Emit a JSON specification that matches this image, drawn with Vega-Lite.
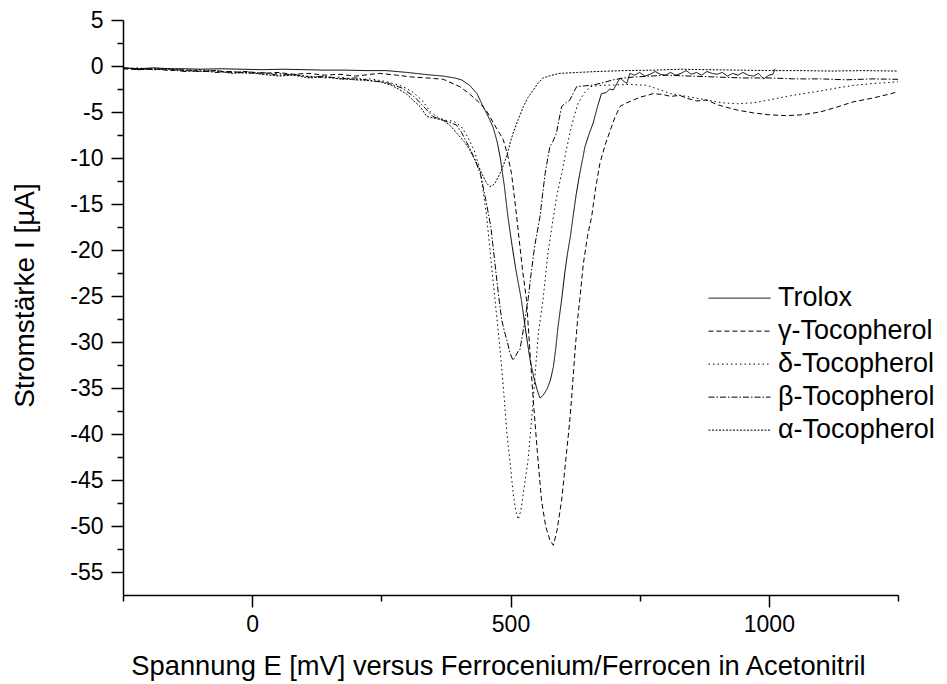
{
  "$schema": "https://vega.github.io/schema/vega-lite/v6.json",
  "width": 775,
  "height": 575,
  "autosize": {"type": "none"},
  "padding": {"left": 123, "top": 20, "right": 49, "bottom": 89},
  "background": "white",
  "config": {
    "view": {"stroke": null},
    "font": "Liberation Sans"
  },
  "data": {"values": [
{"s":"Trolox","E":-250,"I":-0.2},{"s":"Trolox","E":-220,"I":-0.3},{"s":"Trolox","E":-190,"I":-0.2},{"s":"Trolox","E":-160,"I":-0.3},{"s":"Trolox","E":-130,"I":-0.3},{"s":"Trolox","E":-100,"I":-0.35},{"s":"Trolox","E":-60,"I":-0.3},{"s":"Trolox","E":-20,"I":-0.35},{"s":"Trolox","E":20,"I":-0.4},{"s":"Trolox","E":60,"I":-0.35},{"s":"Trolox","E":100,"I":-0.4},{"s":"Trolox","E":140,"I":-0.45},{"s":"Trolox","E":180,"I":-0.45},{"s":"Trolox","E":220,"I":-0.5},{"s":"Trolox","E":260,"I":-0.5},{"s":"Trolox","E":300,"I":-0.7},{"s":"Trolox","E":340,"I":-0.95},{"s":"Trolox","E":370,"I":-1.1},{"s":"Trolox","E":392,"I":-1.3},{"s":"Trolox","E":405,"I":-1.5},{"s":"Trolox","E":421,"I":-2.1},{"s":"Trolox","E":435,"I":-3.0},{"s":"Trolox","E":447,"I":-4.4},{"s":"Trolox","E":457,"I":-5.5},{"s":"Trolox","E":466,"I":-6.6},{"s":"Trolox","E":474,"I":-8.2},{"s":"Trolox","E":480,"I":-9.9},{"s":"Trolox","E":488,"I":-13},{"s":"Trolox","E":495,"I":-16.4},{"s":"Trolox","E":503,"I":-19.5},{"s":"Trolox","E":510,"I":-22},{"s":"Trolox","E":521,"I":-25.4},{"s":"Trolox","E":530,"I":-29},{"s":"Trolox","E":538,"I":-32},{"s":"Trolox","E":545,"I":-33.8},{"s":"Trolox","E":550,"I":-34.9},{"s":"Trolox","E":557,"I":-36.1},{"s":"Trolox","E":563,"I":-35.8},{"s":"Trolox","E":570,"I":-35.2},{"s":"Trolox","E":577,"I":-34.2},{"s":"Trolox","E":583,"I":-32.7},{"s":"Trolox","E":588,"I":-30.5},{"s":"Trolox","E":592,"I":-28.3},{"s":"Trolox","E":599,"I":-25.4},{"s":"Trolox","E":605,"I":-22.5},{"s":"Trolox","E":610,"I":-20.5},{"s":"Trolox","E":616,"I":-18.5},{"s":"Trolox","E":621,"I":-16.4},{"s":"Trolox","E":627,"I":-14},{"s":"Trolox","E":634,"I":-11.7},{"s":"Trolox","E":640,"I":-10},{"s":"Trolox","E":644,"I":-8.8},{"s":"Trolox","E":652,"I":-7.4},{"s":"Trolox","E":660,"I":-6.2},{"s":"Trolox","E":668,"I":-4.5},{"s":"Trolox","E":676,"I":-3.0},{"s":"Trolox","E":685,"I":-2.9},{"s":"Trolox","E":692,"I":-2.5},{"s":"Trolox","E":699,"I":-2.6},{"s":"Trolox","E":706,"I":-1.9},{"s":"Trolox","E":712,"I":-1.3},{"s":"Trolox","E":718,"I":-1.6},{"s":"Trolox","E":725,"I":-1.9},{"s":"Trolox","E":731,"I":-0.8},{"s":"Trolox","E":740,"I":-1.0},{"s":"Trolox","E":750,"I":-0.7},{"s":"Trolox","E":760,"I":-1.1},{"s":"Trolox","E":770,"I":-0.9},{"s":"Trolox","E":780,"I":-0.6},{"s":"Trolox","E":790,"I":-0.9},{"s":"Trolox","E":800,"I":-1.0},{"s":"Trolox","E":810,"I":-0.7},{"s":"Trolox","E":820,"I":-1.0},{"s":"Trolox","E":830,"I":-0.8},{"s":"Trolox","E":840,"I":-0.5},{"s":"Trolox","E":850,"I":-0.9},{"s":"Trolox","E":860,"I":-0.7},{"s":"Trolox","E":870,"I":-1.0},{"s":"Trolox","E":880,"I":-0.6},{"s":"Trolox","E":890,"I":-0.8},{"s":"Trolox","E":900,"I":-0.9},{"s":"Trolox","E":910,"I":-0.7},{"s":"Trolox","E":920,"I":-1.1},{"s":"Trolox","E":930,"I":-0.8},{"s":"Trolox","E":940,"I":-1.0},{"s":"Trolox","E":950,"I":-0.7},{"s":"Trolox","E":960,"I":-1.0},{"s":"Trolox","E":970,"I":-1.1},{"s":"Trolox","E":980,"I":-0.8},{"s":"Trolox","E":990,"I":-1.4},{"s":"Trolox","E":1000,"I":-1.0},{"s":"Trolox","E":1008,"I":-0.9},{"s":"Trolox","E":1012,"I":-0.3},
{"s":"γ-Tocopherol","E":-250,"I":-0.3},{"s":"γ-Tocopherol","E":-220,"I":-0.4},{"s":"γ-Tocopherol","E":-190,"I":-0.3},{"s":"γ-Tocopherol","E":-160,"I":-0.5},{"s":"γ-Tocopherol","E":-130,"I":-0.4},{"s":"γ-Tocopherol","E":-100,"I":-0.6},{"s":"γ-Tocopherol","E":-70,"I":-0.5},{"s":"γ-Tocopherol","E":-40,"I":-0.7},{"s":"γ-Tocopherol","E":-10,"I":-0.6},{"s":"γ-Tocopherol","E":20,"I":-0.8},{"s":"γ-Tocopherol","E":50,"I":-0.7},{"s":"γ-Tocopherol","E":80,"I":-0.9},{"s":"γ-Tocopherol","E":110,"I":-0.8},{"s":"γ-Tocopherol","E":140,"I":-1.0},{"s":"γ-Tocopherol","E":170,"I":-0.9},{"s":"γ-Tocopherol","E":200,"I":-1.1},{"s":"γ-Tocopherol","E":230,"I":-0.9},{"s":"γ-Tocopherol","E":247,"I":-0.8},{"s":"γ-Tocopherol","E":280,"I":-1.0},{"s":"γ-Tocopherol","E":310,"I":-1.2},{"s":"γ-Tocopherol","E":340,"I":-1.3},{"s":"γ-Tocopherol","E":370,"I":-1.45},{"s":"γ-Tocopherol","E":402,"I":-2.25},{"s":"γ-Tocopherol","E":420,"I":-3.0},{"s":"γ-Tocopherol","E":441,"I":-4.05},{"s":"γ-Tocopherol","E":455,"I":-5.0},{"s":"γ-Tocopherol","E":467,"I":-6.2},{"s":"γ-Tocopherol","E":486,"I":-8.0},{"s":"γ-Tocopherol","E":495,"I":-9.8},{"s":"γ-Tocopherol","E":502,"I":-11.7},{"s":"γ-Tocopherol","E":507,"I":-14},{"s":"γ-Tocopherol","E":512,"I":-16.4},{"s":"γ-Tocopherol","E":518,"I":-19.5},{"s":"γ-Tocopherol","E":524,"I":-22.5},{"s":"γ-Tocopherol","E":531,"I":-25.4},{"s":"γ-Tocopherol","E":537,"I":-30.5},{"s":"γ-Tocopherol","E":544,"I":-36.3},{"s":"γ-Tocopherol","E":552,"I":-42},{"s":"γ-Tocopherol","E":560,"I":-47.2},{"s":"γ-Tocopherol","E":568,"I":-50.0},{"s":"γ-Tocopherol","E":576,"I":-51.5},{"s":"γ-Tocopherol","E":583,"I":-52.1},{"s":"γ-Tocopherol","E":590,"I":-50.5},{"s":"γ-Tocopherol","E":599,"I":-47.2},{"s":"γ-Tocopherol","E":604,"I":-44.5},{"s":"γ-Tocopherol","E":609,"I":-41.7},{"s":"γ-Tocopherol","E":614,"I":-39},{"s":"γ-Tocopherol","E":618,"I":-36.3},{"s":"γ-Tocopherol","E":625,"I":-30.9},{"s":"γ-Tocopherol","E":630,"I":-27.5},{"s":"γ-Tocopherol","E":634,"I":-25.4},{"s":"γ-Tocopherol","E":641,"I":-21.5},{"s":"γ-Tocopherol","E":649,"I":-18.5},{"s":"γ-Tocopherol","E":657,"I":-16.4},{"s":"γ-Tocopherol","E":665,"I":-13.2},{"s":"γ-Tocopherol","E":673,"I":-10.6},{"s":"γ-Tocopherol","E":683,"I":-8.6},{"s":"γ-Tocopherol","E":693,"I":-7.0},{"s":"γ-Tocopherol","E":702,"I":-5.6},{"s":"γ-Tocopherol","E":712,"I":-4.4},{"s":"γ-Tocopherol","E":725,"I":-4.0},{"s":"γ-Tocopherol","E":738,"I":-3.7},{"s":"γ-Tocopherol","E":750,"I":-3.4},{"s":"γ-Tocopherol","E":764,"I":-3.2},{"s":"γ-Tocopherol","E":776,"I":-3.0},{"s":"γ-Tocopherol","E":795,"I":-3.1},{"s":"γ-Tocopherol","E":810,"I":-3.3},{"s":"γ-Tocopherol","E":828,"I":-3.2},{"s":"γ-Tocopherol","E":841,"I":-3.5},{"s":"γ-Tocopherol","E":860,"I":-3.8},{"s":"γ-Tocopherol","E":880,"I":-3.7},{"s":"γ-Tocopherol","E":900,"I":-4.2},{"s":"γ-Tocopherol","E":912,"I":-4.4},{"s":"γ-Tocopherol","E":940,"I":-4.8},{"s":"γ-Tocopherol","E":970,"I":-5.1},{"s":"γ-Tocopherol","E":1000,"I":-5.3},{"s":"γ-Tocopherol","E":1034,"I":-5.4},{"s":"γ-Tocopherol","E":1065,"I":-5.3},{"s":"γ-Tocopherol","E":1099,"I":-5.0},{"s":"γ-Tocopherol","E":1130,"I":-4.5},{"s":"γ-Tocopherol","E":1163,"I":-3.9},{"s":"γ-Tocopherol","E":1200,"I":-3.5},{"s":"γ-Tocopherol","E":1230,"I":-3.1},{"s":"γ-Tocopherol","E":1250,"I":-2.8},
{"s":"δ-Tocopherol","E":-250,"I":-0.3},{"s":"δ-Tocopherol","E":-220,"I":-0.2},{"s":"δ-Tocopherol","E":-190,"I":-0.4},{"s":"δ-Tocopherol","E":-160,"I":-0.3},{"s":"δ-Tocopherol","E":-130,"I":-0.5},{"s":"δ-Tocopherol","E":-100,"I":-0.4},{"s":"δ-Tocopherol","E":-70,"I":-0.6},{"s":"δ-Tocopherol","E":-40,"I":-0.7},{"s":"δ-Tocopherol","E":-10,"I":-0.6},{"s":"δ-Tocopherol","E":20,"I":-0.9},{"s":"δ-Tocopherol","E":50,"I":-0.8},{"s":"δ-Tocopherol","E":80,"I":-1.0},{"s":"δ-Tocopherol","E":110,"I":-1.1},{"s":"δ-Tocopherol","E":140,"I":-1.3},{"s":"δ-Tocopherol","E":170,"I":-1.2},{"s":"δ-Tocopherol","E":200,"I":-1.5},{"s":"δ-Tocopherol","E":230,"I":-1.4},{"s":"δ-Tocopherol","E":260,"I":-1.7},{"s":"δ-Tocopherol","E":290,"I":-2.2},{"s":"δ-Tocopherol","E":310,"I":-2.8},{"s":"δ-Tocopherol","E":330,"I":-3.8},{"s":"δ-Tocopherol","E":345,"I":-5.0},{"s":"δ-Tocopherol","E":360,"I":-5.6},{"s":"δ-Tocopherol","E":375,"I":-5.9},{"s":"δ-Tocopherol","E":390,"I":-6.0},{"s":"δ-Tocopherol","E":405,"I":-6.6},{"s":"δ-Tocopherol","E":418,"I":-7.8},{"s":"δ-Tocopherol","E":430,"I":-9.2},{"s":"δ-Tocopherol","E":442,"I":-11.5},{"s":"δ-Tocopherol","E":454,"I":-16.4},{"s":"δ-Tocopherol","E":462,"I":-21},{"s":"δ-Tocopherol","E":470,"I":-25.4},{"s":"δ-Tocopherol","E":480,"I":-30.9},{"s":"δ-Tocopherol","E":487,"I":-35.5},{"s":"δ-Tocopherol","E":493,"I":-39.9},{"s":"δ-Tocopherol","E":500,"I":-43.5},{"s":"δ-Tocopherol","E":505,"I":-46.4},{"s":"δ-Tocopherol","E":510,"I":-48.3},{"s":"δ-Tocopherol","E":515,"I":-49.3},{"s":"δ-Tocopherol","E":520,"I":-48.3},{"s":"δ-Tocopherol","E":525,"I":-46.4},{"s":"δ-Tocopherol","E":534,"I":-42.8},{"s":"δ-Tocopherol","E":540,"I":-39},{"s":"δ-Tocopherol","E":544,"I":-36.3},{"s":"δ-Tocopherol","E":549,"I":-32.5},{"s":"δ-Tocopherol","E":554,"I":-29},{"s":"δ-Tocopherol","E":563,"I":-25.4},{"s":"δ-Tocopherol","E":572,"I":-20.5},{"s":"δ-Tocopherol","E":583,"I":-16.4},{"s":"δ-Tocopherol","E":590,"I":-14},{"s":"δ-Tocopherol","E":599,"I":-11.7},{"s":"δ-Tocopherol","E":607,"I":-9.4},{"s":"δ-Tocopherol","E":615,"I":-7.3},{"s":"δ-Tocopherol","E":623,"I":-5.5},{"s":"δ-Tocopherol","E":631,"I":-4.05},{"s":"δ-Tocopherol","E":642,"I":-3.0},{"s":"δ-Tocopherol","E":654,"I":-2.25},{"s":"δ-Tocopherol","E":675,"I":-2.1},{"s":"δ-Tocopherol","E":699,"I":-2.07},{"s":"δ-Tocopherol","E":730,"I":-2.0},{"s":"δ-Tocopherol","E":764,"I":-2.1},{"s":"δ-Tocopherol","E":790,"I":-2.6},{"s":"δ-Tocopherol","E":810,"I":-3.0},{"s":"δ-Tocopherol","E":840,"I":-3.3},{"s":"δ-Tocopherol","E":870,"I":-3.6},{"s":"δ-Tocopherol","E":910,"I":-4.0},{"s":"δ-Tocopherol","E":940,"I":-4.1},{"s":"δ-Tocopherol","E":970,"I":-4.0},{"s":"δ-Tocopherol","E":1000,"I":-3.7},{"s":"δ-Tocopherol","E":1035,"I":-3.3},{"s":"δ-Tocopherol","E":1067,"I":-3.0},{"s":"δ-Tocopherol","E":1100,"I":-2.7},{"s":"δ-Tocopherol","E":1131,"I":-2.4},{"s":"δ-Tocopherol","E":1165,"I":-2.1},{"s":"δ-Tocopherol","E":1202,"I":-1.9},{"s":"δ-Tocopherol","E":1230,"I":-1.8},{"s":"δ-Tocopherol","E":1250,"I":-1.7},
{"s":"β-Tocopherol","E":-250,"I":-0.2},{"s":"β-Tocopherol","E":-220,"I":-0.4},{"s":"β-Tocopherol","E":-190,"I":-0.3},{"s":"β-Tocopherol","E":-160,"I":-0.4},{"s":"β-Tocopherol","E":-130,"I":-0.6},{"s":"β-Tocopherol","E":-100,"I":-0.5},{"s":"β-Tocopherol","E":-70,"I":-0.7},{"s":"β-Tocopherol","E":-40,"I":-0.6},{"s":"β-Tocopherol","E":-10,"I":-0.8},{"s":"β-Tocopherol","E":20,"I":-0.7},{"s":"β-Tocopherol","E":50,"I":-1.0},{"s":"β-Tocopherol","E":80,"I":-0.9},{"s":"β-Tocopherol","E":110,"I":-1.2},{"s":"β-Tocopherol","E":140,"I":-1.1},{"s":"β-Tocopherol","E":170,"I":-1.4},{"s":"β-Tocopherol","E":200,"I":-1.3},{"s":"β-Tocopherol","E":230,"I":-1.6},{"s":"β-Tocopherol","E":260,"I":-1.8},{"s":"β-Tocopherol","E":290,"I":-2.4},{"s":"β-Tocopherol","E":315,"I":-3.4},{"s":"β-Tocopherol","E":335,"I":-4.6},{"s":"β-Tocopherol","E":350,"I":-5.5},{"s":"β-Tocopherol","E":365,"I":-5.8},{"s":"β-Tocopherol","E":380,"I":-6.1},{"s":"β-Tocopherol","E":395,"I":-6.4},{"s":"β-Tocopherol","E":405,"I":-7.2},{"s":"β-Tocopherol","E":418,"I":-8.6},{"s":"β-Tocopherol","E":430,"I":-10},{"s":"β-Tocopherol","E":442,"I":-11.8},{"s":"β-Tocopherol","E":452,"I":-14.5},{"s":"β-Tocopherol","E":462,"I":-17.5},{"s":"β-Tocopherol","E":470,"I":-21.5},{"s":"β-Tocopherol","E":477,"I":-25},{"s":"β-Tocopherol","E":483,"I":-27.6},{"s":"β-Tocopherol","E":488,"I":-28.8},{"s":"β-Tocopherol","E":493,"I":-29.8},{"s":"β-Tocopherol","E":499,"I":-31.2},{"s":"β-Tocopherol","E":505,"I":-32},{"s":"β-Tocopherol","E":510,"I":-31.5},{"s":"β-Tocopherol","E":515,"I":-31},{"s":"β-Tocopherol","E":518,"I":-30.9},{"s":"β-Tocopherol","E":523,"I":-29.3},{"s":"β-Tocopherol","E":528,"I":-27.6},{"s":"β-Tocopherol","E":534,"I":-25.4},{"s":"β-Tocopherol","E":540,"I":-22.5},{"s":"β-Tocopherol","E":547,"I":-19.5},{"s":"β-Tocopherol","E":557,"I":-16.4},{"s":"β-Tocopherol","E":562,"I":-14},{"s":"β-Tocopherol","E":567,"I":-11.7},{"s":"β-Tocopherol","E":576,"I":-8.8},{"s":"β-Tocopherol","E":582,"I":-8.2},{"s":"β-Tocopherol","E":589,"I":-7.3},{"s":"β-Tocopherol","E":594,"I":-5.8},{"s":"β-Tocopherol","E":599,"I":-4.4},{"s":"β-Tocopherol","E":607,"I":-4.0},{"s":"β-Tocopherol","E":615,"I":-3.7},{"s":"β-Tocopherol","E":621,"I":-3.0},{"s":"β-Tocopherol","E":628,"I":-2.25},{"s":"β-Tocopherol","E":645,"I":-2.15},{"s":"β-Tocopherol","E":660,"I":-2.07},{"s":"β-Tocopherol","E":680,"I":-1.8},{"s":"β-Tocopherol","E":699,"I":-1.5},{"s":"β-Tocopherol","E":720,"I":-1.3},{"s":"β-Tocopherol","E":738,"I":-1.2},{"s":"β-Tocopherol","E":770,"I":-1.1},{"s":"β-Tocopherol","E":800,"I":-1.0},{"s":"β-Tocopherol","E":850,"I":-1.1},{"s":"β-Tocopherol","E":900,"I":-1.2},{"s":"β-Tocopherol","E":950,"I":-1.3},{"s":"β-Tocopherol","E":1000,"I":-1.3},{"s":"β-Tocopherol","E":1050,"I":-1.4},{"s":"β-Tocopherol","E":1100,"I":-1.4},{"s":"β-Tocopherol","E":1150,"I":-1.5},{"s":"β-Tocopherol","E":1200,"I":-1.4},{"s":"β-Tocopherol","E":1250,"I":-1.45},
{"s":"α-Tocopherol","E":-250,"I":-0.2},{"s":"α-Tocopherol","E":-220,"I":-0.3},{"s":"α-Tocopherol","E":-190,"I":-0.4},{"s":"α-Tocopherol","E":-160,"I":-0.3},{"s":"α-Tocopherol","E":-130,"I":-0.5},{"s":"α-Tocopherol","E":-100,"I":-0.6},{"s":"α-Tocopherol","E":-70,"I":-0.5},{"s":"α-Tocopherol","E":-40,"I":-0.8},{"s":"α-Tocopherol","E":-10,"I":-0.7},{"s":"α-Tocopherol","E":20,"I":-0.9},{"s":"α-Tocopherol","E":50,"I":-1.1},{"s":"α-Tocopherol","E":80,"I":-1.0},{"s":"α-Tocopherol","E":110,"I":-1.3},{"s":"α-Tocopherol","E":140,"I":-1.2},{"s":"α-Tocopherol","E":170,"I":-1.4},{"s":"α-Tocopherol","E":200,"I":-1.5},{"s":"α-Tocopherol","E":230,"I":-1.6},{"s":"α-Tocopherol","E":247,"I":-1.7},{"s":"α-Tocopherol","E":270,"I":-2.1},{"s":"α-Tocopherol","E":286,"I":-2.6},{"s":"α-Tocopherol","E":300,"I":-3.1},{"s":"α-Tocopherol","E":311,"I":-3.7},{"s":"α-Tocopherol","E":325,"I":-4.4},{"s":"α-Tocopherol","E":338,"I":-5.5},{"s":"α-Tocopherol","E":355,"I":-5.7},{"s":"α-Tocopherol","E":370,"I":-5.9},{"s":"α-Tocopherol","E":384,"I":-6.5},{"s":"α-Tocopherol","E":396,"I":-7.3},{"s":"α-Tocopherol","E":410,"I":-8.2},{"s":"α-Tocopherol","E":421,"I":-9.1},{"s":"α-Tocopherol","E":431,"I":-10.2},{"s":"α-Tocopherol","E":441,"I":-11.3},{"s":"α-Tocopherol","E":448,"I":-12.1},{"s":"α-Tocopherol","E":454,"I":-12.75},{"s":"α-Tocopherol","E":460,"I":-13.1},{"s":"α-Tocopherol","E":465,"I":-13.0},{"s":"α-Tocopherol","E":470,"I":-12.75},{"s":"α-Tocopherol","E":476,"I":-12.1},{"s":"α-Tocopherol","E":483,"I":-11.3},{"s":"α-Tocopherol","E":490,"I":-10.2},{"s":"α-Tocopherol","E":496,"I":-9.1},{"s":"α-Tocopherol","E":500,"I":-8.2},{"s":"α-Tocopherol","E":505,"I":-7.3},{"s":"α-Tocopherol","E":515,"I":-5.8},{"s":"α-Tocopherol","E":525,"I":-4.4},{"s":"α-Tocopherol","E":534,"I":-3.4},{"s":"α-Tocopherol","E":544,"I":-2.6},{"s":"α-Tocopherol","E":553,"I":-1.9},{"s":"α-Tocopherol","E":563,"I":-1.3},{"s":"α-Tocopherol","E":580,"I":-1.0},{"s":"α-Tocopherol","E":596,"I":-0.8},{"s":"α-Tocopherol","E":630,"I":-0.7},{"s":"α-Tocopherol","E":667,"I":-0.6},{"s":"α-Tocopherol","E":720,"I":-0.5},{"s":"α-Tocopherol","E":780,"I":-0.45},{"s":"α-Tocopherol","E":828,"I":-0.35},{"s":"α-Tocopherol","E":880,"I":-0.4},{"s":"α-Tocopherol","E":940,"I":-0.45},{"s":"α-Tocopherol","E":1000,"I":-0.5},{"s":"α-Tocopherol","E":1060,"I":-0.5},{"s":"α-Tocopherol","E":1120,"I":-0.55},{"s":"α-Tocopherol","E":1180,"I":-0.5},{"s":"α-Tocopherol","E":1250,"I":-0.55}
  ]},
  "mark": {"type": "line", "color": "black", "strokeWidth": 1, "clip": true},
  "encoding": {
    "x": {
      "field": "E", "type": "quantitative",
      "scale": {"domain": [-250, 1250], "nice": false, "zero": false},
      "axis": {
        "title": "Spannung E [mV] versus Ferrocenium/Ferrocen in Acetonitril",
        "values": [-250, 0, 250, 500, 750, 1000, 1250],
        "grid": false,
        "domainColor": "black", "domainWidth": 1.5,
        "tickColor": "black", "tickWidth": 1.5,
        "tickSize": {"condition": {"test": "datum.value % 500 === 0", "value": 12}, "value": 6},
        "labelExpr": "datum.value % 500 === 0 ? '' + datum.value : ''",
        "labelFont": "Liberation Sans", "labelFontSize": 23, "labelColor": "black", "labelPadding": 6,
        "titleFont": "Liberation Sans", "titleFontSize": 27.3, "titleFontWeight": "normal", "titleColor": "black", "titlePadding": 16,
        "titleX": 375
      }
    },
    "y": {
      "field": "I", "type": "quantitative",
      "scale": {"domain": [-57.5, 5], "nice": false, "zero": false},
      "axis": {
        "title": "Stromstärke I [µA]",
        "values": [5, 2.5, 0, -2.5, -5, -7.5, -10, -12.5, -15, -17.5, -20, -22.5, -25, -27.5, -30, -32.5, -35, -37.5, -40, -42.5, -45, -47.5, -50, -52.5, -55],
        "grid": false,
        "domainColor": "black", "domainWidth": 1.5,
        "tickColor": "black", "tickWidth": 1.5,
        "tickSize": {"condition": {"test": "datum.value % 5 === 0", "value": 12}, "value": 6},
        "labelExpr": "datum.value % 5 === 0 ? '' + datum.value : ''",
        "labelFont": "Liberation Sans", "labelFontSize": 23, "labelColor": "black", "labelPadding": 8,
        "titleFont": "Liberation Sans", "titleFontSize": 28, "titleFontWeight": "normal", "titleColor": "black", "titlePadding": 30,
        "titleY": 275
      }
    },
    "strokeDash": {
      "field": "s", "type": "nominal",
      "scale": {
        "domain": ["Trolox", "γ-Tocopherol", "δ-Tocopherol", "β-Tocopherol", "α-Tocopherol"],
        "range": [[1, 0], [5, 3], [1.5, 3], [6, 2, 1.5, 2], [2, 1.5]]
      },
      "legend": {
        "orient": "none", "legendX": 585, "legendY": 262,
        "title": null, "padding": 0, "offset": 0,
        "symbolType": "stroke", "symbolSize": 3844, "symbolStrokeWidth": 1, "symbolStrokeColor": "black",
        "rowPadding": 0, "clipHeight": 32.3, "labelOffset": 7,
        "labelFont": "Liberation Sans", "labelFontSize": 27, "labelColor": "black", "labelLimit": 400
      }
    }
  }
}
